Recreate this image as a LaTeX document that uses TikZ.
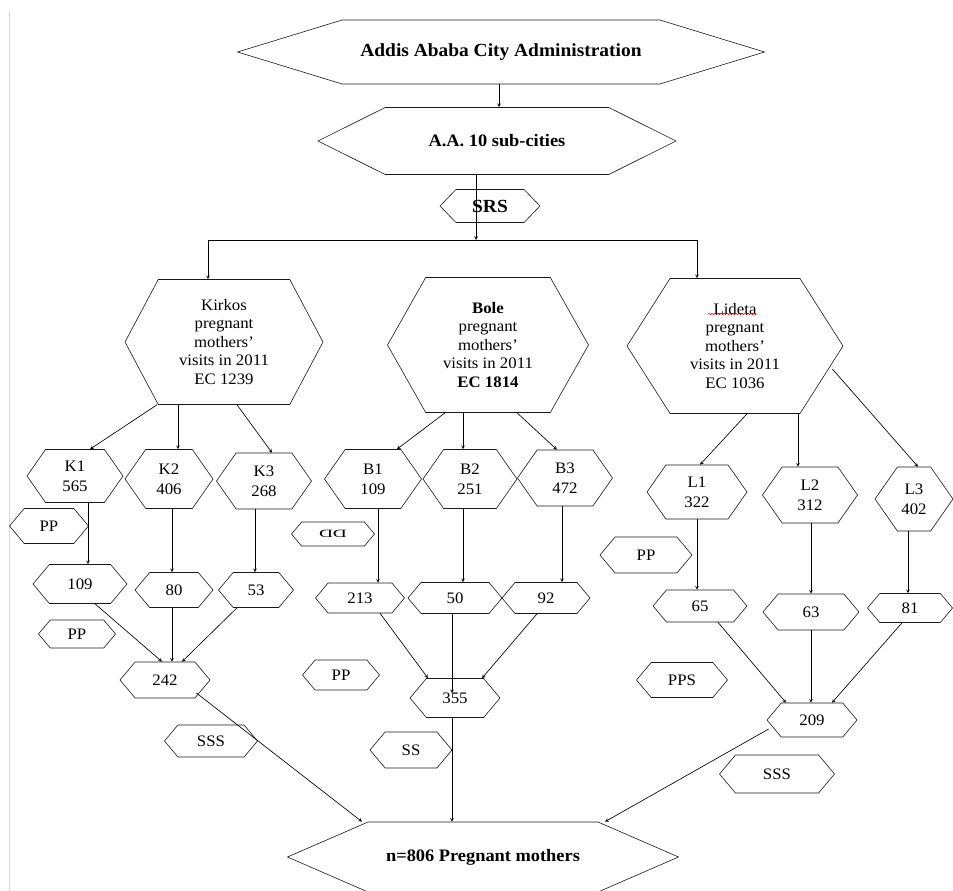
\documentclass[tikz,border=0pt]{standalone}
\usepackage{fontspec}
\setmainfont{Liberation Serif}[FakeStretch=1.05]
\usetikzlibrary{shapes.symbols,decorations.pathmorphing}
\tikzset{
	hexa/.style={draw=black!90, line width=.6pt, shape=signal, signal to=west and east,
		inner sep=0pt, align=center, font=\fontsize{16}{18.5}\selectfont},
	mid/.style={hexa, signal pointer angle=110, font=\fontsize{16}{20}\selectfont},
	small/.style={hexa, signal pointer angle=100},
	head/.style={hexa, font=\fontsize{17.5}{20}\selectfont\bfseries},
}
\begin{document}
\begin{tikzpicture}[x=1pt,y=-1pt,line width=.65pt]
	\useasboundingbox (0,0) rectangle (953,891);
	\draw[black!15] (9,11)--(9,891);
	% top of the tree
	\node[head,minimum width=527,minimum height=64,signal pointer angle=34,font=\fontsize{18.5}{20}\selectfont\bfseries] (top) at (501,52) {Addis Ababa City Administration};
	\node[head,minimum width=358,minimum height=67,signal pointer angle=53] (sub) at (497,141) {A.A. 10 sub-cities};
	\node[head,minimum width=100,minimum height=33,signal pointer angle=92,font=\fontsize{18.5}{20}\selectfont\bfseries] (srs) at (490,206) {SRS};
	\coordinate (split) at (476,240);
	% sub-cities
	\node[hexa,minimum width=198,minimum height=125,signal pointer angle=124] (kirkos) at (224,342) {Kirkos\\pregnant\\mothers'\\visits in 2011\\EC 1239};
	\node[hexa,minimum width=201,minimum height=135,signal pointer angle=121] (bole) at (488,345) {\textbf{Bole}\\pregnant\\mothers'\\visits in 2011\\\textbf{EC 1814}};
	\node[hexa,minimum width=216,minimum height=135,signal pointer angle=115] (lideta) at (735,346) {Lideta\\pregnant\\mothers'\\visits in 2011\\EC 1036};
	\draw[red,line width=.5pt,decorate,decoration={snake,amplitude=.7pt,segment length=3pt}]
	([xshift=-27pt,yshift=32pt]lideta.center)--([xshift=22pt,yshift=32pt]lideta.center);
	% health centres
	\node[mid,minimum width=96,minimum height=53] (k1) at (75,476) {K1\\565};
	\node[mid,minimum width=88,minimum height=59] (k2) at (169,479) {K2\\406};
	\node[mid,minimum width=95,minimum height=56] (k3) at (264,481) {K3\\268};
	\node[mid,minimum width=97,minimum height=59] (b1) at (373,479) {B1\\109};
	\node[mid,minimum width=94,minimum height=59] (b2) at (470,479) {B2\\251};
	\node[mid,minimum width=95,minimum height=56] (b3) at (565,478) {B3\\472};
	\node[mid,minimum width=100,minimum height=54] (l1) at (697,492) {L1\\322};
	\node[mid,minimum width=95,minimum height=56] (l2) at (810,495) {L2\\312};
	\node[mid,minimum width=78,minimum height=64] (l3) at (914,499) {L3\\402};
	% samples
	\node[small,minimum width=79,minimum height=35] (pk1) at (49,526) {PP};
	\node[small,minimum width=94,minimum height=39] (k109) at (80,584) {109};
	\node[small,minimum width=78,minimum height=35] (k80) at (174,590) {80};
	\node[small,minimum width=75,minimum height=35] (k53) at (256,590) {53};
	\node[small,minimum width=77,minimum height=28] (pk2) at (77,634) {PP};
	\node[small,minimum width=90,minimum height=36] (k242) at (165,680) {242};
	\node[small,minimum width=93,minimum height=32] (sssk) at (211,741) {SSS};
	\node[small,minimum width=83,minimum height=24] (pb1) at (333,534) {\reflectbox{\scalebox{1.15}[.7]{DD}}};
	\node[small,minimum width=89,minimum height=30] (b213) at (360,598) {213};
	\node[small,minimum width=94,minimum height=31] (b50) at (455,598) {50};
	\node[small,minimum width=88,minimum height=31] (b92) at (546,598) {92};
	\node[small,minimum width=77,minimum height=30] (pb2) at (341,675) {PP};
	\node[small,minimum width=90,minimum height=39] (b355) at (455,698) {355};
	\node[small,minimum width=82,minimum height=36] (ssb) at (411,750) {SS};
	\node[small,minimum width=92,minimum height=36] (pl1) at (646,555) {PP};
	\node[small,minimum width=94,minimum height=32] (l65) at (700,606) {65};
	\node[small,minimum width=96,minimum height=36] (l63) at (811,612) {63};
	\node[small,minimum width=85,minimum height=29] (l81) at (910,608) {81};
	\node[small,minimum width=91,minimum height=35] (pps) at (682,680) {PPS};
	\node[small,minimum width=90,minimum height=34] (l209) at (812,720) {209};
	\node[small,minimum width=115,minimum height=38] (sssl) at (777,774) {SSS};
	\node[head,minimum width=391,minimum height=70,signal pointer angle=47] (total) at (483,857) {n=806 Pregnant mothers};
	% arrows
	\draw[-stealth] ([xshift=-2pt]top.south)--([xshift=-2pt]top.south |- sub.north);
	\draw[-stealth] ([xshift=-21pt]sub.south)--(split);
	\draw[-stealth] (split)-|([xshift=-16pt]kirkos.north);
	\draw[-stealth] (split)-|([xshift=-38pt]lideta.north);
	\draw[-stealth] ([xshift=-67pt]kirkos.south)--([xshift=15pt]k1.north);
	\draw[-stealth] ([xshift=13pt]kirkos.south)--([xshift=8pt]k3.north);
	\draw[-stealth] ([xshift=-43pt]bole.south)--([xshift=24pt]b1.north);
	\draw[-stealth] ([xshift=29pt]bole.south)--([xshift=-8pt]b3.north);
	\draw[-stealth] ([xshift=12pt]lideta.south)--([xshift=3pt]l1.north);
	\draw[-stealth] ([xshift=-11pt,yshift=-23pt]lideta.east)--([xshift=4pt]l3.north);
	\foreach \a/\b/\dx in {kirkos/k2/-46,bole/b2/-25,lideta/l2/63,k1/k109/13,k2/k80/3,k3/k53/-9,
		b1/b213/5,b2/b50/-7,b3/b92/-3,l1/l65/0,l2/l63/1,l3/l81/-6,k80/k242/-2,l63/l209/0,b355/total/-3}
	\draw[-stealth] ([xshift=\dx pt]\a.south)--([xshift=\dx pt]\a.south |- \b.north);
	\draw[-stealth] ([xshift=-3pt]b50.south)--([xshift=-3pt,yshift=-15pt]b355.north);
	\draw[-stealth] ([xshift=15pt]k109.south)--([xshift=-3pt]k242.north);
	\draw[-stealth] ([xshift=-19pt]k53.south)--([xshift=17pt]k242.north);
	\draw[-stealth] ([xshift=20pt]b213.south)--([xshift=-27pt]b355.north);
	\draw[-stealth] ([xshift=-9pt]b92.south)--([xshift=27pt]b355.north);
	\draw[-stealth] ([xshift=18pt]l65.south)--([xshift=-26pt]l209.north);
	\draw[-stealth] ([xshift=-8pt]l81.south)--([xshift=20pt]l209.north);
	\draw[-stealth] ([xshift=-14pt,yshift=-13pt]k242.east)--([xshift=-121pt]total.north);
	\draw[-stealth] ([xshift=2pt,yshift=-9pt]l209.west)--([xshift=122pt]total.north);
\end{tikzpicture}
\end{document}
